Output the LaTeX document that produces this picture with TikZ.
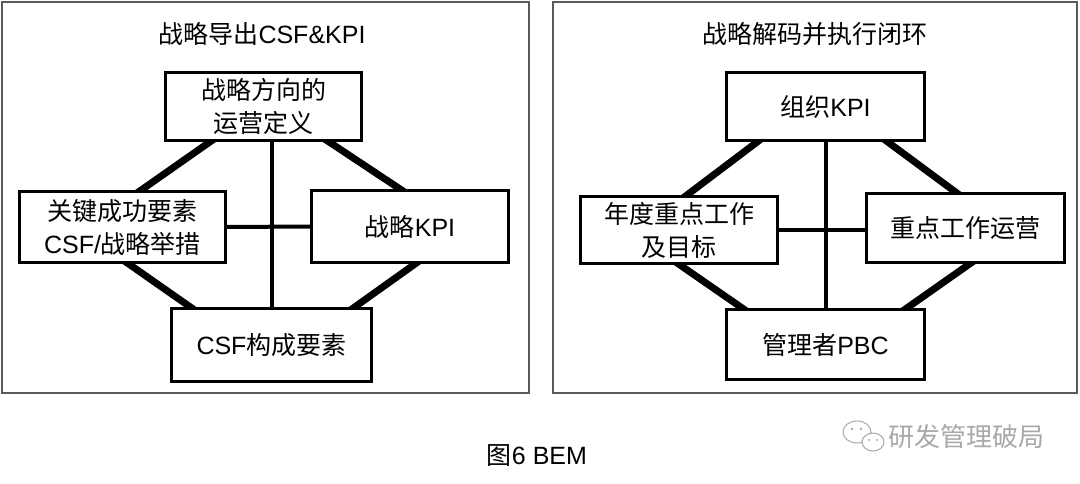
\documentclass[tikz,border=0pt]{standalone}
\usepackage{fontspec}
\setmainfont{Liberation Sans}
\newfontfamily\cjk{Noto Sans CJK SC}
\usepackage{tikz}
\usetikzlibrary{calc,backgrounds}
\definecolor{frame}{HTML}{5A5A5A}
\definecolor{wmgray}{HTML}{A8A8A8}
\newcommand{\zh}[1]{{\cjk #1}}
\tikzset{
  lab/.style={font=\fontsize{25}{33}\selectfont, align=center},
  box/.style={lab, draw=black, line width=3pt, fill=white, inner sep=0pt},
  panel/.style={draw=frame, line width=1.5pt},
  link/.style={line width=7pt, shorten <=-6pt, shorten >=-6pt},
  spoke/.style={line width=4pt},
  bubble/.style={draw=wmgray, line width=1pt, fill=white}
}

\begin{document}
\begin{tikzpicture}[x=1pt,y=-1pt]
\useasboundingbox (0,0) rectangle (1080,484);

% strategy to CSF and KPI
\draw[panel] (2,2) rectangle (529,393);
\node[lab] (title1) at (262,34) {\zh{战略导出}CSF\&KPI};
\node[box, minimum width=196pt, minimum height=68pt] (top1) at (263.5,106.5) {\zh{战略方向的}\\\zh{运营定义}};
\node[box, minimum width=206pt, minimum height=71pt] (lft1) at (122.5,227) {\zh{关键成功要素}\\CSF/\zh{战略举措}};
\node[box, minimum width=197pt, minimum height=72pt] (rgt1) at (410,226.5) {\zh{战略}KPI};
\node[box, minimum width=200pt, minimum height=73pt] (bot1) at (271.5,345) {CSF\zh{构成要素}};
\begin{pgfonlayer}{background}
\draw[link] ($(top1.south west)!0.23!(top1.south east)$) -- ($(lft1.north west)!0.59!(lft1.north east)$);
\draw[link] ($(top1.south west)!0.83!(top1.south east)$) -- ($(rgt1.north west)!0.45!(rgt1.north east)$);
\draw[link] ($(lft1.south west)!0.53!(lft1.south east)$) -- ($(bot1.north west)!0.10!(bot1.north east)$);
\draw[link] ($(rgt1.south west)!0.525!(rgt1.south east)$) -- ($(bot1.north west)!0.91!(bot1.north east)$);
\draw[spoke] (bot1.north) -- (bot1.north |- top1.south);
\draw[spoke] (lft1.east) -- (rgt1.west);
\end{pgfonlayer}

% decoding and closed loop
\draw[panel] (553,2) rectangle (1077,393);
\node[lab] (title2) at (815,34) {\zh{战略解码并执行闭环}};
\node[box, minimum width=198pt, minimum height=68pt] (top2) at (825.5,106.5) {\zh{组织}KPI};
\node[box, minimum width=197pt, minimum height=67pt] (lft2) at (679,230) {\zh{年度重点工作}\\\zh{及目标}};
\node[box, minimum width=198pt, minimum height=69pt] (rgt2) at (965.5,228) {\zh{重点工作运营}};
\node[box, minimum width=198pt, minimum height=70pt] (bot2) at (825.5,344.5) {\zh{管理者}PBC};
\begin{pgfonlayer}{background}
\draw[link] ($(top2.south west)!0.16!(top2.south east)$) -- ($(lft2.north west)!0.54!(lft2.north east)$);
\draw[link] ($(top2.south west)!0.81!(top2.south east)$) -- ($(rgt2.north west)!0.45!(rgt2.north east)$);
\draw[link] ($(lft2.south west)!0.505!(lft2.south east)$) -- ($(bot2.north west)!0.085!(bot2.north east)$);
\draw[link] ($(rgt2.south west)!0.52!(rgt2.south east)$) -- ($(bot2.north west)!0.905!(bot2.north east)$);
\draw[spoke] (bot2.north) -- (bot2.north |- top2.south);
\draw[spoke] (lft2.east) -- (lft2.east -| rgt2.west);
\end{pgfonlayer}

% caption and watermark
\node[lab] (cap) at (537,456) {\zh{图}6 BEM};
\draw[bubble] (857,432) ellipse (14pt and 11pt);
\draw[bubble] (873,442) ellipse (11pt and 9pt);
\fill[wmgray] (852,429) circle (1.3pt) (861,429) circle (1.3pt) (869,440) circle (1.2pt) (877,440) circle (1.2pt);
\node[lab, text=wmgray, font=\fontsize{26}{30}\selectfont] (wm) at (966,437) {\zh{研发管理破局}};
\end{tikzpicture}
\end{document}
